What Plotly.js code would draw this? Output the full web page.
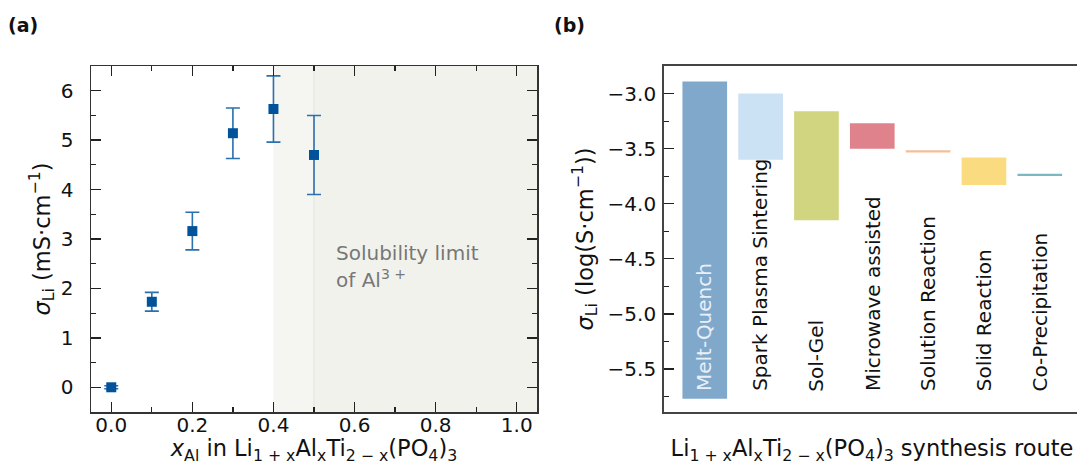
<!DOCTYPE html>
<html><head><meta charset="utf-8">
<script src="https://cdn.plot.ly/plotly-3.0.1.min.js"></script>
<style>html,body{margin:0;padding:0;overflow:hidden;background:#fff}</style>
</head><body><div id="chart" style="width:1085px;height:465px"></div>
<script>
// Panel (a): conductivity vs Al content
const xAl = [0.0, 0.1, 0.2, 0.3, 0.4, 0.5];
const sigmaLi = [0.0, 1.73, 3.16, 5.14, 5.63, 4.70];
const sigmaErr = [0.03, 0.19, 0.38, 0.51, 0.67, 0.80];

// Panel (b): conductivity range by synthesis route (log S/cm)
const routes = ['Melt-Quench', 'Spark Plasma Sintering', 'Sol-Gel', 'Microwave assisted',
                'Solution Reaction', 'Solid Reaction', 'Co-Precipitation'];
const logSigmaLow  = [-5.77, -3.60, -4.15, -3.50, -3.535, -3.83, -3.748];
const logSigmaHigh = [-2.89, -3.00, -3.16, -3.27, -3.515, -3.58, -3.728];

const routeColors = ['#80a8cb', '#cbe1f4', '#d2d580', '#e0828b', '#f3bf9a', '#fbdb80', '#7ab8c4'];

const W = 1085, H = 465;
const FONT = 'DejaVu Sans, Liberation Sans, sans-serif';
const TITLE_SIZE = 22.5;
const fx = px => px / W;
const fy = px => 1 - px / H;

const traces = [
  {
    type: 'scatter', mode: 'markers', x: xAl, y: sigmaLi,
    xaxis: 'x', yaxis: 'y',
    marker: {symbol: 'square', size: 10, color: '#00539b'},
    error_y: {type: 'data', array: sigmaErr, visible: true, color: '#2a6fae', thickness: 1.6, width: 7},
    showlegend: false, hoverinfo: 'x+y'
  },
  {
    type: 'bar', x: routes,
    y: routes.map((r, i) => logSigmaHigh[i] - logSigmaLow[i]),
    base: logSigmaLow,
    xaxis: 'x2', yaxis: 'y2', width: 0.8,
    marker: {color: routeColors, line: {width: 0}},
    showlegend: false
  }
];

const tickCommon = {
  ticks: 'inside', ticklen: 10, tickwidth: 1.3, tickcolor: '#222',
  showline: true, linecolor: '#333', linewidth: 1.5,
  showgrid: false, zeroline: false,
  tickfont: {family: FONT, size: 20, color: '#111'}
};

const annotations = [
  {xref: 'paper', yref: 'paper', x: fx(6), y: fy(12), xanchor: 'left', yanchor: 'top',
   text: '<b>(a)</b>', showarrow: false, font: {family: FONT, size: 19, color: '#111'}},
  {xref: 'paper', yref: 'paper', x: fx(552), y: fy(12), xanchor: 'left', yanchor: 'top',
   text: '<b>(b)</b>', showarrow: false, font: {family: FONT, size: 19, color: '#111'}},
  {xref: 'x', yref: 'y', x: 0.55, y: 3.0, xanchor: 'left', yanchor: 'top',
   text: 'Solubility limit', showarrow: false, font: {family: FONT, size: 20, color: '#777'}},
  {xref: 'x', yref: 'y', x: 0.55, y: 2.5, xanchor: 'left', yanchor: 'top',
   text: 'of Al<sup>3 +</sup>', showarrow: false, font: {family: FONT, size: 20, color: '#777'}}
];
routes.forEach((r, i) => {
  annotations.push({
    xref: 'x2', yref: 'y2', x: r, y: -5.72, xanchor: 'center', yanchor: 'bottom',
    text: r, textangle: -90, showarrow: false,
    font: {family: FONT, size: 20, color: i === 0 ? '#e8eff7' : '#111'}
  });
});

const layout = {
  width: W, height: H,
  margin: {l: 0, r: 0, t: 0, b: 0},
  paper_bgcolor: '#fff', plot_bgcolor: '#fff',
  font: {family: FONT, size: 20, color: '#111'},
  xaxis: Object.assign({}, tickCommon, {
    domain: [fx(91), fx(537)], anchor: 'y', range: [-0.05, 1.05],
    tick0: 0, dtick: 0.2, tickformat: '.1f', mirror: 'ticks',
    minor: {ticks: 'inside', ticklen: 5, tickwidth: 1.2, tickcolor: '#222', dtick: 0.1, tick0: 0, showgrid: false},
    ticklabelstandoff: -6,
    title: {text: '<i>x</i><sub>Al</sub> in Li<sub>1 + x</sub>Al<sub>x</sub>Ti<sub>2 − x</sub>(PO<sub>4</sub>)<sub>3</sub>',
            font: {family: FONT, size: TITLE_SIZE, color: '#111'}, standoff: 10}
  }),
  yaxis: Object.assign({}, tickCommon, {
    domain: [fy(412), fy(66)], anchor: 'x', range: [-0.5, 6.5],
    tick0: 0, dtick: 1, mirror: 'ticks',
    minor: {ticks: 'inside', ticklen: 5, tickwidth: 1.2, tickcolor: '#222', dtick: 0.5, tick0: 0, showgrid: false},
    ticklabelstandoff: 12,
    title: {text: '<i>σ</i><sub>Li</sub> (mS·cm<sup>−1</sup>)',
            font: {family: FONT, size: TITLE_SIZE, color: '#111'}, standoff: 4}
  }),
  xaxis2: {
    domain: [fx(664), fx(1080)], anchor: 'y2', type: 'category', range: [-0.73, 6.72],
    showticklabels: false, ticks: '', showgrid: false, zeroline: false,
    showline: true, linecolor: '#444', linewidth: 1.8, mirror: true,
    title: {text: 'Li<sub>1 + x</sub>Al<sub>x</sub>Ti<sub>2 − x</sub>(PO<sub>4</sub>)<sub>3</sub> synthesis route',
            font: {family: FONT, size: TITLE_SIZE, color: '#111'}, standoff: 30}
  },
  yaxis2: Object.assign({}, tickCommon, {
    domain: [fy(412), fy(66)], anchor: 'x2', range: [-5.89, -2.75],
    tick0: -3, dtick: 0.5, tickformat: '.1f', mirror: true,
    linecolor: '#444', linewidth: 1.8,
    minor: {ticks: 'inside', ticklen: 5, tickwidth: 1.2, tickcolor: '#222', dtick: 0.25, tick0: -3, showgrid: false},
    ticklabelstandoff: 2,
    title: {text: '<i>σ</i><sub>Li</sub> (log(S·cm<sup>−1</sup>))',
            font: {family: FONT, size: TITLE_SIZE, color: '#111'}, standoff: 8}
  }),
  yaxis3: {
    overlaying: 'y2', side: 'right', anchor: 'x2', range: [-5.89, -2.75],
    tick0: -3, dtick: 0.5, ticks: 'inside', ticklen: 10, tickwidth: 1.3, tickcolor: '#444',
    showticklabels: false, showline: false, showgrid: false, zeroline: false
  },
  shapes: [
    {type: 'rect', xref: 'x', yref: 'y domain', x0: 0.4, x1: 1.05, y0: 0, y1: 1,
     fillcolor: 'rgb(245,245,241)', line: {width: 0}, layer: 'below'},
    {type: 'rect', xref: 'x', yref: 'y domain', x0: 0.5, x1: 1.05, y0: 0, y1: 1,
     fillcolor: 'rgb(242,242,237)', line: {width: 0}, layer: 'below'},
    {type: 'line', xref: 'x', yref: 'y domain', x0: 0.5, x1: 0.5, y0: 0, y1: 1,
     line: {color: 'rgb(232,232,227)', width: 1.5}, layer: 'below'}
  ],
  annotations: annotations
};

Plotly.newPlot('chart', traces, layout, {staticPlot: true, displayModeBar: false});
</script>
</body></html>
